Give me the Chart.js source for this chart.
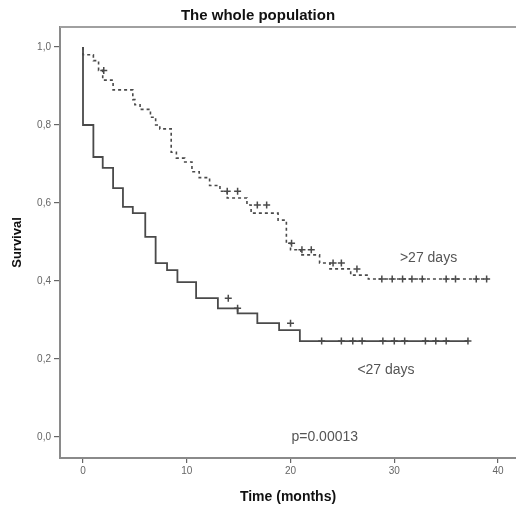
<!DOCTYPE html>
<html>
<head>
<meta charset="utf-8">
<script src="https://cdn.jsdelivr.net/npm/chart.js@4.4.0/dist/chart.umd.min.js"></script>
<style>
  body { margin: 0; background: #fff; }
  #wrap { width: 516px; height: 507px; }
</style>
</head>
<body>
<div id="wrap"><canvas id="km-chart" width="516" height="507"></canvas></div>
<script>
// Kaplan-Meier steps: time (months) where survival drops, and the new level
const longTimes = [0, 1.0, 1.5, 1.9, 2.9, 4.8, 5.0, 5.5, 6.5, 7.0, 7.4, 8.5, 9.0, 9.8, 10.5, 11.2, 12.2, 13.2, 13.9, 15.8, 16.2, 18.8, 19.6, 20.0, 21.0, 22.8, 23.8, 25.8, 27.5, 28.3, 39.0];
const longSurv = [1.0, 0.98, 0.965, 0.94, 0.915, 0.89, 0.865, 0.852, 0.84, 0.82, 0.80, 0.79, 0.73, 0.715, 0.705, 0.68, 0.665, 0.645, 0.63, 0.613, 0.595, 0.574, 0.556, 0.497, 0.48, 0.467, 0.446, 0.431, 0.415, 0.405, 0.405];
const longCensorTimes = [2.0, 13.9, 14.9, 16.8, 17.7, 20.1, 21.1, 22.0, 24.1, 24.9, 26.4, 28.8, 29.8, 30.8, 31.7, 32.7, 35.0, 35.9, 37.9, 38.9];
const longCensorSurv = [0.94, 0.63, 0.63, 0.595, 0.595, 0.497, 0.48, 0.48, 0.446, 0.446, 0.431, 0.405, 0.405, 0.405, 0.405, 0.405, 0.405, 0.405, 0.405, 0.405];

const shortTimes = [0, 0, 1.0, 1.9, 2.9, 3.85, 4.8, 6.0, 7.0, 8.1, 9.1, 10.9, 13.0, 14.9, 16.8, 18.9, 20.9, 22.0, 37.1];
const shortSurv = [1.0, 0.864, 0.80, 0.718, 0.69, 0.638, 0.59, 0.574, 0.513, 0.446, 0.428, 0.397, 0.356, 0.33, 0.317, 0.292, 0.274, 0.246, 0.246];
const shortCensorTimes = [14.0, 14.9, 20.0, 23.0, 24.9, 26.0, 26.9, 28.9, 30.0, 31.0, 33.0, 34.0, 35.0, 37.1];
const shortCensorSurv = [0.356, 0.33, 0.292, 0.246, 0.246, 0.246, 0.246, 0.246, 0.246, 0.246, 0.246, 0.246, 0.246, 0.246];

const xTicks = [0, 10, 20, 30, 40];
const yTicks = [0, 0.2, 0.4, 0.6, 0.8, 1.0];

const toPoints = (xs, ys) => xs.map((x, i) => ({ x: x, y: ys[i] }));

const lineColor = '#4a4a4a';
const axisColor = '#8a8a8a';

// labels and the top frame line
const labelsPlugin = {
  id: 'kmLabels',
  afterDraw(chart) {
    const { ctx, chartArea, scales } = chart;
    ctx.save();
    ctx.strokeStyle = '#a0a0a0';
    ctx.lineWidth = 2;
    ctx.beginPath();
    ctx.moveTo(chartArea.left, chartArea.top);
    ctx.lineTo(chartArea.right, chartArea.top);
    ctx.stroke();

    ctx.fillStyle = '#555';
    ctx.font = '14px "Liberation Sans", Arial, sans-serif';
    ctx.textAlign = 'center';
    ctx.textBaseline = 'middle';
    ctx.fillText('>27 days', scales.x.getPixelForValue(33.3), scales.y.getPixelForValue(0.459));
    ctx.fillText('<27 days', scales.x.getPixelForValue(29.2), scales.y.getPixelForValue(0.172));
    ctx.fillText('p=0.00013', scales.x.getPixelForValue(23.3), scales.y.getPixelForValue(0.0));
    ctx.restore();
  }
};

const censorStyle = {
  type: 'scatter',
  showLine: false,
  pointStyle: 'cross',
  pointRadius: 3.5,
  borderColor: lineColor,
  backgroundColor: lineColor,
  borderWidth: 1.5
};

const ctx = document.getElementById('km-chart');
const kmChart = new Chart(ctx, {
  type: 'line',
  data: {
    datasets: [
      {
        label: '>27 days',
        data: toPoints(longTimes, longSurv),
        stepped: 'after',
        borderColor: lineColor,
        borderWidth: 1.6,
        borderDash: [3, 3],
        pointRadius: 0,
        fill: false
      },
      {
        label: '<27 days',
        data: toPoints(shortTimes, shortSurv),
        stepped: 'after',
        borderColor: lineColor,
        borderWidth: 1.8,
        pointRadius: 0,
        fill: false
      },
      Object.assign({ label: '>27 days censored', data: toPoints(longCensorTimes, longCensorSurv) }, censorStyle),
      Object.assign({ label: '<27 days censored', data: toPoints(shortCensorTimes, shortCensorSurv) }, censorStyle)
    ]
  },
  options: {
    responsive: false,
    devicePixelRatio: 1,
    animation: false,
    layout: { padding: 0, autoPadding: false },
    plugins: {
      legend: { display: false },
      tooltip: { enabled: false },
      title: {
        display: true,
        text: 'The whole population',
        color: '#111',
        font: { family: '"Liberation Sans", Arial, sans-serif', size: 15, weight: 'bold' },
        padding: { top: 7, bottom: 2 }
      }
    },
    scales: {
      x: {
        type: 'linear',
        min: -2.217,
        max: 41.73,
        afterFit: (scale) => {
          scale.height = 49;
          scale.paddingLeft = 0;
          scale.paddingRight = 0;
        },
        afterBuildTicks: (scale) => { scale.ticks = xTicks.map(v => ({ value: v })); },
        grid: { drawOnChartArea: false, drawTicks: true, tickLength: 5, color: '#666', lineWidth: 1.2 },
        border: { display: true, color: axisColor, width: 2 },
        ticks: {
          color: '#666',
          padding: 2,
          maxRotation: 0,
          font: { family: '"Liberation Sans", Arial, sans-serif', size: 10 }
        },
        title: {
          display: true,
          text: 'Time (months)',
          color: '#111',
          font: { family: '"Liberation Sans", Arial, sans-serif', size: 14, weight: 'bold' },
          padding: { top: 0, bottom: 1 }
        }
      },
      y: {
        min: -0.0538,
        max: 1.0513,
        afterFit: (scale) => {
          scale.width = 60;
          scale.paddingTop = 0;
          scale.paddingBottom = 0;
        },
        afterBuildTicks: (scale) => { scale.ticks = yTicks.map(v => ({ value: v })); },
        grid: { drawOnChartArea: false, drawTicks: true, tickLength: 6, color: '#666', lineWidth: 1.2 },
        border: { display: true, color: axisColor, width: 2 },
        ticks: {
          color: '#666',
          padding: 3,
          font: { family: '"Liberation Sans", Arial, sans-serif', size: 10 },
          callback: (v) => v.toFixed(1).replace('.', ',')
        },
        title: {
          display: true,
          text: 'Survival',
          color: '#111',
          font: { family: '"Liberation Sans", Arial, sans-serif', size: 13, weight: 'bold' },
          padding: { top: 10, bottom: 0 }
        }
      }
    }
  },
  plugins: [labelsPlugin]
});
</script>
</body>
</html>
